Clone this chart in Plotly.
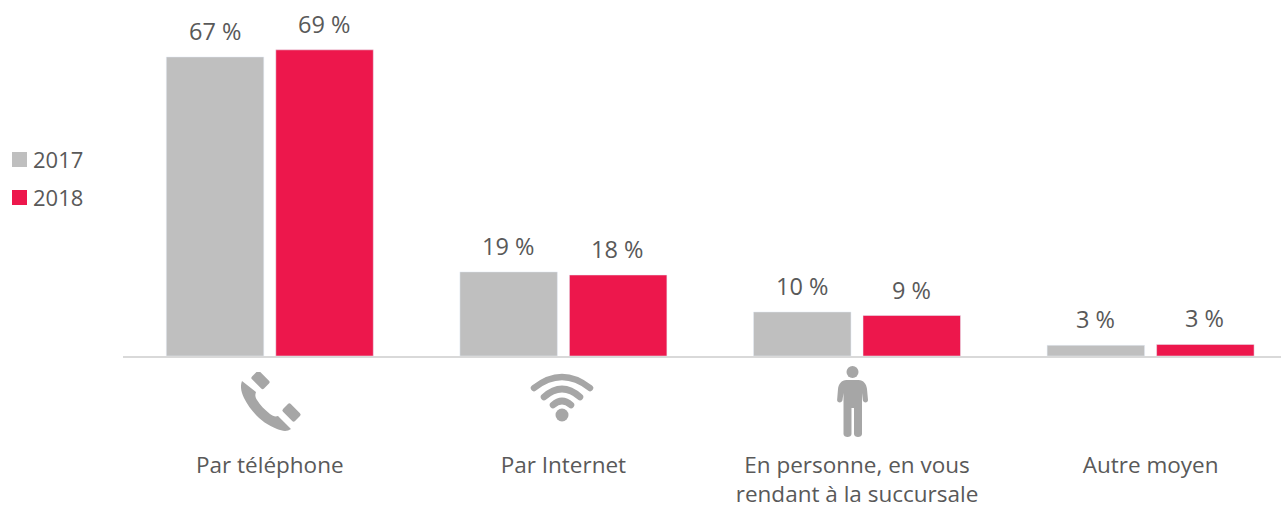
import base64
import plotly.graph_objects as go

categories = ["Par téléphone", "Par Internet", "En personne, en vous<br>rendant à la succursale", "Autre moyen"]
series_names = ["2017", "2018"]
values_2017 = [67.2, 18.9, 9.9, 2.4]
values_2018 = [68.8, 18.2, 9.1, 2.6]
labels_2017 = ["67 %", "19 %", "10 %", "3 %"]
labels_2018 = ["69 %", "18 %", "9 %", "3 %"]

GREY = "#BFBFBF"
RED = "#ED174C"
TEXT = "#595959"
ICON = "#A6A6A6"
FONT = "Open Sans"


def svg_uri(body, w, h):
    svg = f'<svg xmlns="http://www.w3.org/2000/svg" width="{w}" height="{h}" viewBox="0 0 {w} {h}">{body}</svg>'
    return "data:image/svg+xml;base64," + base64.b64encode(svg.encode()).decode()


phone = svg_uri(
    f'<g fill="{ICON}">'
    '<path d="M1 9 C-1 14 0 20 3 26 C10 40 22 52 36 57 C41 59 46 60 50 57 L37 44 C34 45 32 44 29 42 '
    'C24 38 19 33 16 28 C14 25 14 23 15 20 Z"/>'
    '<rect x="11" y="2.5" width="17" height="11" rx="2" transform="rotate(45 19.5 8)"/>'
    '<rect x="42" y="35" width="17" height="11" rx="2" transform="rotate(45 50.5 40.5)"/>'
    '</g>', 62, 60)

wifi = svg_uri(
    f'<g fill="none" stroke="{ICON}" stroke-linecap="round" stroke-width="6.5">'
    '<path d="M4 16 Q32 -6 60 16"/>'
    '<path d="M14 25 Q32 9 50 25"/>'
    '<path d="M23 33 Q32 25 41 33"/>'
    f'</g><circle cx="32" cy="43" r="6.5" fill="{ICON}"/>', 64, 50)

person = svg_uri(
    f'<g fill="{ICON}">'
    '<circle cx="16" cy="6" r="6"/>'
    '<path d="M10 14 H22 C27 14 30 18 30.5 23 L31.5 34 C31.7 37 26.7 37.5 26.3 34 L25.5 27 V68 '
    'C25.5 72 17.5 72 17.5 68 V42 H15 V68 C15 72 7 72 7 68 V27 L6 34 C5.6 37.5 0.4 37 0.6 34 L1.5 23 C2 18 5 14 10 14 Z"/>'
    '</g>', 32, 72)

fig = go.Figure()
fig.add_bar(name=series_names[0], x=categories, y=values_2017, marker_color=GREY, showlegend=False)
fig.add_bar(name=series_names[1], x=categories, y=values_2018, marker_color=RED, showlegend=False)

W = 1281
H = 506
BASE = 356
LEFT = 123
T = 10
PX = 4.45
yr = (BASE - T) / PX
PW = W - LEFT
PH = BASE - T

shapes = []
annotations = []
for name, col, py in zip(series_names, [GREY, RED], [160, 198]):
    shapes.append(dict(type="rect", xref="paper", yref="paper", xsizemode="pixel", ysizemode="pixel",
                       xanchor=0, yanchor=1, x0=12 - LEFT, x1=27 - LEFT, y0=-(py - T) + 8, y1=-(py - T) - 7,
                       fillcolor=col, line_width=0, layer="above"))
    annotations.append(dict(text=name, xref="paper", yref="paper", x=0, y=1,
                            xanchor="left", yanchor="middle", xshift=31 - LEFT, yshift=-(py - T) + 1,
                            showarrow=False, font=dict(family=FONT, size=22, color=TEXT)))

for vals, labs, xs in [(values_2017, labels_2017, -54.5), (values_2018, labels_2018, 54.5)]:
    for cat, v, lab in zip(categories, vals, labs):
        annotations.append(dict(text=lab, x=cat, y=v, xref="x", yref="y", xshift=xs - 0.5, yshift=26,
                                xanchor="center", yanchor="middle", showarrow=False,
                                font=dict(family=FONT, size=23.5, color=TEXT)))

images = []
for src, w, h, cx, top in [
    (phone, 62, 60, 272, 372),
    (wifi, 64, 50, 562, 372),
    (person, 32, 72, 852.5, 366),
]:
    images.append(dict(source=src, xref="paper", yref="paper", x=(cx - LEFT) / PW, y=(BASE - top) / PH,
                       sizex=w / PW, sizey=h / PH, xanchor="center", yanchor="top",
                       sizing="stretch", layer="above"))

fig.update_layout(
    width=W, height=H, autosize=False,
    margin=dict(l=LEFT, r=0, t=T, b=H - BASE, autoexpand=False),
    barmode="group", bargap=0.254, bargroupgap=0.11,
    plot_bgcolor="white", paper_bgcolor="white",
    font=dict(family=FONT, size=22, color=TEXT),
    shapes=shapes, annotations=annotations, images=images,
    xaxis=dict(range=[-0.5, -0.5 + PW / 293.6], showgrid=False, showline=True, linecolor="#D9D9D9", linewidth=2,
               ticks="", tickfont=dict(family=FONT, size=22.5, color=TEXT), ticklabelstandoff=88, tickangle=0,
               automargin=False, fixedrange=True),
    yaxis=dict(range=[0, yr], visible=False, fixedrange=True, automargin=False),
)
fig.write_html("out.html", config={"displayModeBar": False}, post_script="document.body.style.margin='0';")
